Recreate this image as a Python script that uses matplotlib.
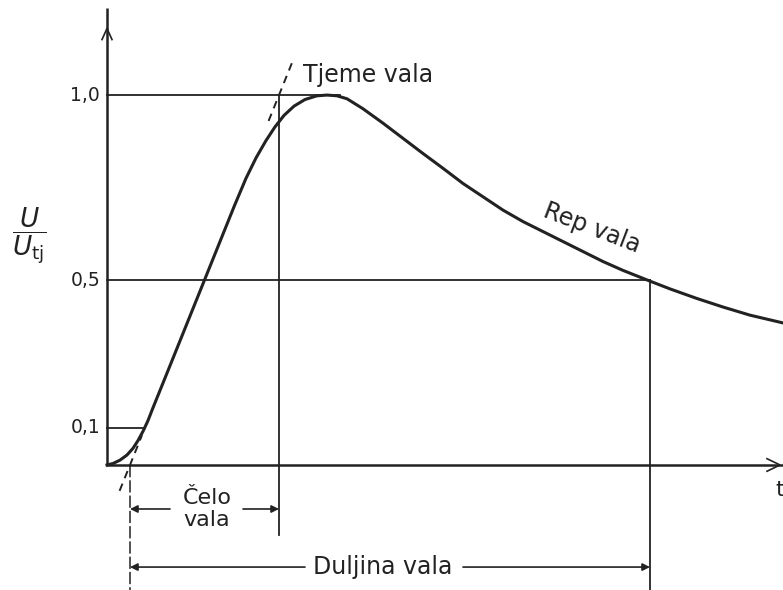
import numpy as np
import matplotlib.pyplot as plt

# wave shape (t in arbitrary units, u = U/Utj)
t_curve = [0, 0.06, 0.13, 0.20, 0.26, 0.31, 0.36, 0.41, 0.456, 0.6025, 0.826, 0.975,
           1.124, 1.273, 1.39, 1.49, 1.59, 1.68, 1.77, 1.87, 1.98, 2.10, 2.20, 2.30,
           2.40, 2.56, 2.76, 2.96, 3.16, 3.36, 3.56, 3.76, 3.96, 4.16, 4.36, 4.56, 4.76,
           4.96, 5.16, 5.43, 5.63, 5.90, 6.16, 6.43, 6.76]
u_curve = [0, 0.004, 0.013, 0.027, 0.045, 0.066, 0.091, 0.120, 0.152, 0.25, 0.40, 0.50,
           0.60, 0.70, 0.775, 0.83, 0.877, 0.914, 0.945, 0.970, 0.988, 0.998, 1.0, 0.998,
           0.990, 0.963, 0.924, 0.883, 0.842, 0.802, 0.761, 0.725, 0.689, 0.658, 0.631,
           0.604, 0.577, 0.550, 0.526, 0.497, 0.476, 0.450, 0.427, 0.405, 0.384]

levels = [0.1, 0.5, 1.0]
level_labels = ["0,1", "0,5", "1,0"]
level_ends = [0.38, 5.43, 2.33]

t_O1 = 0.23     # virtual origin
t_T1 = 1.72     # end of front
t_T2 = 5.43     # half value on tail

ink = "#222222"

fig = plt.figure(figsize=(7.83, 5.90), dpi=100)
fig.patch.set_facecolor("white")
ax = fig.add_axes([0, 0, 1, 1])
ax.set_xlim(-1.07, 6.76)
ax.set_ylim(-0.338, 1.257)
ax.axis("off")

# axes
ax.plot([0, 0], [0, 1.235], color=ink, lw=1.8, solid_capstyle="butt")
ax.plot([0, 6.76], [0, 0], color=ink, lw=1.8)
ax.plot([-0.05, 0, 0.05], [1.15, 1.18, 1.15], color=ink, lw=1.2)
ax.plot([6.60, 6.73, 6.60], [0.017, 0, -0.017], color=ink, lw=1.2)
ax.text(6.68, -0.068, "t", fontsize=16, color=ink, ha="left", va="center")

# reference levels
for lv, lab, te in zip(levels, level_labels, level_ends):
    ax.plot([0, te], [lv, lv], color=ink, lw=1.3)
    ax.text(-0.07, lv, lab, fontsize=13.5, color=ink, ha="right", va="center")

# vertical construction lines
ax.plot([t_T1, t_T1], [1.0, -0.189], color=ink, lw=1.3)
ax.plot([t_T2, t_T2], [0.5, -0.338], color=ink, lw=1.3)
ax.plot([t_O1, t_O1], [0, -0.338], color=ink, lw=1.1, ls=(0, (8, 2)))

# virtual front line extensions
k = (t_T1 - t_O1)
ax.plot([t_O1 + k * -0.07, t_O1 + k * 0.08], [-0.07, 0.08], color=ink, lw=1.4, ls=(0, (4, 3)))
ax.plot([t_O1 + k * 0.93, t_O1 + k * 1.10], [0.93, 1.10], color=ink, lw=1.4, ls=(0, (4, 3)))

# the wave
ax.plot(t_curve, u_curve, color=ink, lw=2.2, solid_joinstyle="round")

# labels
ax.text(1.96, 1.055, "Tjeme vala", fontsize=17, color=ink, ha="left", va="center")
ax.text(4.85, 0.640, "Rep vala", fontsize=17, color=ink, ha="center", va="center", rotation=-21)
ax.text(-0.78, 0.62, r"$\dfrac{U}{U_{\mathrm{tj}}}$", fontsize=19, color=ink, ha="center", va="center")

# front duration
y_f = -0.119
ax.text(1.00, y_f, "Čelo\nvala", fontsize=16, color=ink, ha="center", va="center", linespacing=1.15)
arr = dict(arrowstyle="-|>", color=ink, lw=1.2, mutation_scale=11, shrinkA=0, shrinkB=0)
ax.annotate("", xy=(t_O1, y_f), xytext=(0.63, y_f), arrowprops=arr)
ax.annotate("", xy=(t_T1, y_f), xytext=(1.36, y_f), arrowprops=arr)

# wave length
y_d = -0.276
ax.text(2.76, y_d, "Duljina vala", fontsize=17, color=ink, ha="center", va="center")
ax.annotate("", xy=(t_O1, y_d), xytext=(1.98, y_d), arrowprops=arr)
ax.annotate("", xy=(t_T2, y_d), xytext=(3.56, y_d), arrowprops=arr)

fig.savefig("out.png", dpi=100, facecolor="white")
